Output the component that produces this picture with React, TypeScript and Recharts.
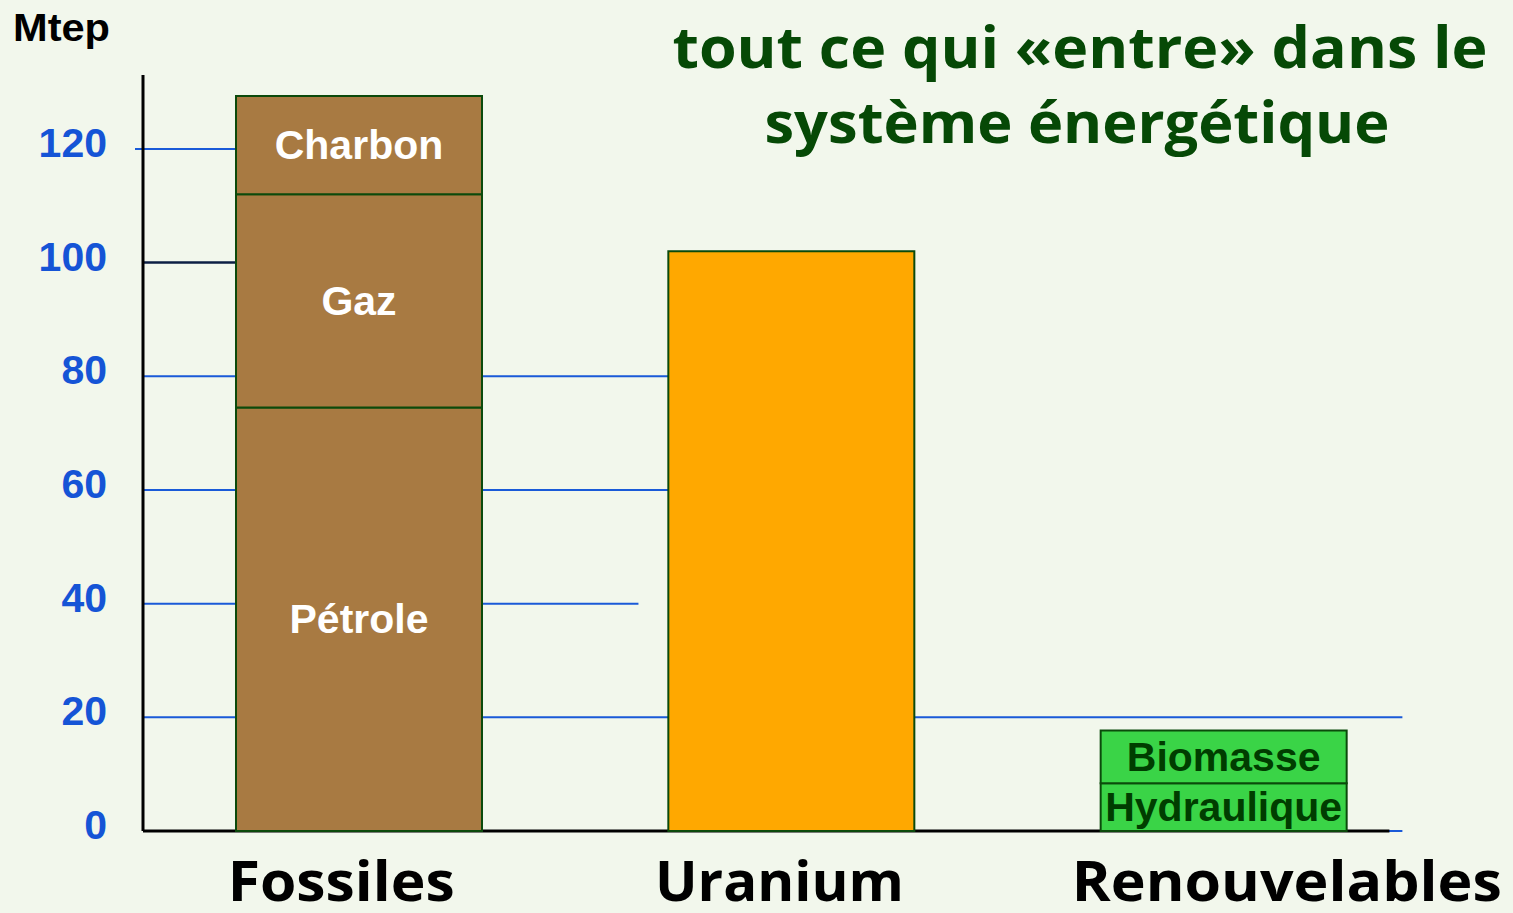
import { BarChart, Bar, XAxis, YAxis, CartesianGrid, LabelList } from 'recharts';

const categories = ['Fossiles', 'Uranium', 'Renouvelables'];
const petrole = [74.5, null, null];
const gaz = [37.5, null, null];
const charbon = [17.3, null, null];
const uranium = [null, 102, null];
const hydraulique = [null, null, 8.4];
const biomasse = [null, null, 9.3];
const yTicks = [0, 20, 40, 60, 80, 100, 120];

const data = categories.map((name, i) => ({
  name,
  petrole: petrole[i],
  gaz: gaz[i],
  charbon: charbon[i],
  uranium: uranium[i],
  hydraulique: hydraulique[i],
  biomasse: biomasse[i],
}));

// plot geometry
const TOP = 75;
const PLOT_H = 756;
const Y_MAX = 133;

// how far (share of plot width) each horizontal line runs
const gridReach: Record<number, number> = { 0: 0.971, 20: 0.971, 40: 0.382, 60: 0.45, 80: 0.45, 100: 0.1, 120: 0.1 };
const labelShift = [-18, -12, 63];

const BG = '#f2f7ec';
const BLUE = '#1a5ad8';
const EDGE = '#0b4a0b';

const renderGridLine = (p: any) => {
  const value = Math.round(((TOP + PLOT_H - p.y1) / PLOT_H) * Y_MAX);
  const reach = gridReach[value] ?? 1;
  const x2 = p.x1 + (p.x2 - p.x1) * reach;
  if (value === 0) {
    return (
      <g key={p.key}>
        <line x1={p.x1} y1={p.y1} x2={x2} y2={p.y2} stroke={BLUE} strokeWidth={2} />
        <line x1={p.x1} y1={p.y1} x2={p.x1 + (p.x2 - p.x1) * 0.961} y2={p.y2} stroke="#000" strokeWidth={3} />
      </g>
    );
  }
  return (
    <line key={p.key} x1={value === 120 ? p.x1 - 8 : p.x1} y1={p.y1} x2={x2} y2={p.y2}
      stroke={value === 100 ? '#0c1f44' : BLUE} strokeWidth={value === 100 ? 2.5 : 2} />
  );
};

const segLabel = (name: string, color: string) => (props: any) => {
  const vb = props.viewBox || props;
  if (props.value == null || !vb.height) return null;
  return (
    <text x={vb.x + vb.width / 2} y={vb.y + vb.height / 2} textAnchor="middle" dominantBaseline="central"
      fill={color} fontSize={41} fontWeight="bold" fontFamily="'Liberation Sans', Arial, sans-serif">
      {name}
    </text>
  );
};

const YTick = (props: any) => (
  <text x={props.x} y={props.y + 8} textAnchor="end" fill="#1554d6" fontSize={41} fontWeight="bold"
    fontFamily="'Liberation Sans', Arial, sans-serif">
    {props.payload.value}
  </text>
);

const labelWidths = [227, 249, 430];

const XTick = (props: any) => (
  <text x={props.x + labelShift[props.index]} y={props.y + 70} textAnchor="middle" fill="#000" fontSize={56}
    fontWeight={700} fontFamily="'Open Sans', sans-serif" textLength={labelWidths[props.index]}
    lengthAdjust="spacingAndGlyphs">
    {props.payload.value}
  </text>
);

export default function App() {
  return (
    <div style={{ position: 'fixed', left: 0, top: 0, width: 1513, height: 913, background: BG }}>
      <BarChart width={1513} height={913} data={data} margin={{ top: TOP, right: 73, bottom: 0, left: 0 }}>
        <CartesianGrid vertical={false} horizontal={renderGridLine} horizontalValues={yTicks} />
        <XAxis dataKey="name" axisLine={false} tickLine={false} tickSize={0} tickMargin={0} height={82} tick={<XTick />} />
        <YAxis domain={[0, Y_MAX]} ticks={yTicks} width={143} axisLine={{ stroke: '#000', strokeWidth: 3 }}
          tickLine={false} tickSize={0} tickMargin={36} tick={<YTick />} />
        <Bar dataKey="petrole" stackId="a" fill="#a87a42" stroke={EDGE} strokeWidth={2} barSize={246} isAnimationActive={false}>
          <LabelList dataKey="petrole" content={segLabel('Pétrole', '#ffffff')} />
        </Bar>
        <Bar dataKey="gaz" stackId="a" fill="#a87a42" stroke={EDGE} strokeWidth={2} barSize={246} isAnimationActive={false}>
          <LabelList dataKey="gaz" content={segLabel('Gaz', '#ffffff')} />
        </Bar>
        <Bar dataKey="charbon" stackId="a" fill="#a87a42" stroke={EDGE} strokeWidth={2} barSize={246} isAnimationActive={false}>
          <LabelList dataKey="charbon" content={segLabel('Charbon', '#ffffff')} />
        </Bar>
        <Bar dataKey="uranium" stackId="a" fill="#ffa800" stroke={EDGE} strokeWidth={2} barSize={246} isAnimationActive={false} />
        <Bar dataKey="hydraulique" stackId="a" fill="#3ad447" stroke={EDGE} strokeWidth={2} barSize={246} isAnimationActive={false}>
          <LabelList dataKey="hydraulique" content={segLabel('Hydraulique', '#003d00')} />
        </Bar>
        <Bar dataKey="biomasse" stackId="a" fill="#3ad447" stroke={EDGE} strokeWidth={2} barSize={246} isAnimationActive={false}>
          <LabelList dataKey="biomasse" content={segLabel('Biomasse', '#003d00')} />
        </Bar>
      </BarChart>
      <svg width={1513} height={913} style={{ position: 'absolute', left: 0, top: 0, pointerEvents: 'none' }}>
        <text x={13} y={41} fill="#000" fontSize={39} fontWeight="bold" fontFamily="'Liberation Sans', Arial, sans-serif"
          textLength={97} lengthAdjust="spacingAndGlyphs">Mtep</text>
        <text x={1080} y={68} textAnchor="middle" fill="#064906" fontSize={58} fontWeight={700}
          fontFamily="'Open Sans', sans-serif" textLength={815} lengthAdjust="spacingAndGlyphs">
          tout ce qui «entre» dans le
        </text>
        <text x={1077} y={143} textAnchor="middle" fill="#064906" fontSize={58} fontWeight={700}
          fontFamily="'Open Sans', sans-serif" textLength={625} lengthAdjust="spacingAndGlyphs">
          système énergétique
        </text>
      </svg>
    </div>
  );
}
